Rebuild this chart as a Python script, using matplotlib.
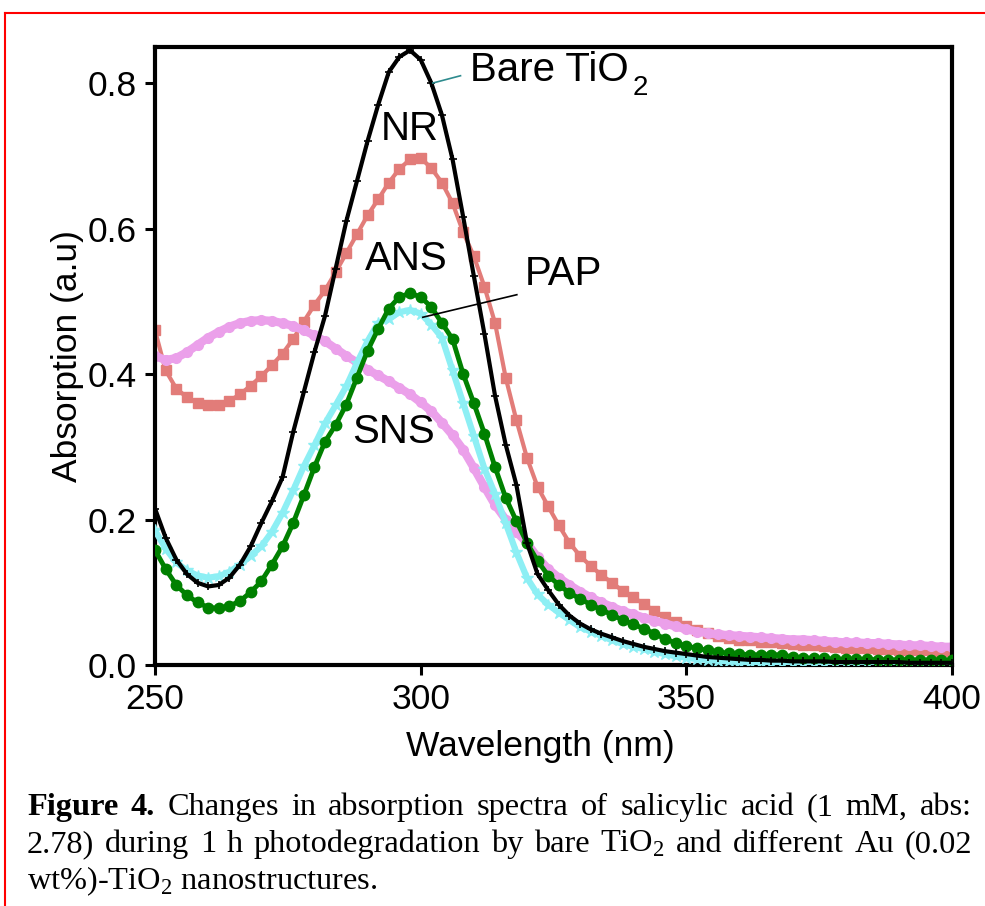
import numpy as np
import matplotlib
matplotlib.use("Agg")
import matplotlib.pyplot as plt
from matplotlib.lines import Line2D

plt.rcParams["font.family"] = ["Liberation Sans", "DejaVu Sans"]

# ── spectra, 2 nm steps ───────────────────────────────────────────────────────
wavelength = np.arange(250, 401, 2)

bare_tio2 = [0.215, 0.175, 0.145, 0.125, 0.113, 0.108, 0.110, 0.120, 0.138, 0.163,
             0.195, 0.225, 0.258, 0.320, 0.375, 0.430, 0.480, 0.545, 0.610, 0.665,
             0.720, 0.770, 0.815, 0.836, 0.845, 0.832, 0.800, 0.756, 0.695, 0.616,
             0.535, 0.455, 0.370, 0.303, 0.248, 0.168, 0.125, 0.103, 0.083, 0.068,
             0.057, 0.049, 0.043, 0.038, 0.033, 0.029, 0.025, 0.022, 0.019, 0.017,
             0.015, 0.013, 0.011, 0.010, 0.009, 0.008, 0.007, 0.007, 0.006, 0.006,
             0.005, 0.005, 0.005, 0.005, 0.004, 0.004, 0.004, 0.004, 0.004, 0.004,
             0.004, 0.003, 0.003, 0.003, 0.003, 0.003]

nr = [0.460, 0.405, 0.380, 0.368, 0.360, 0.357, 0.358, 0.363, 0.372, 0.384,
      0.397, 0.412, 0.428, 0.448, 0.472, 0.495, 0.515, 0.540, 0.566, 0.592,
      0.618, 0.640, 0.663, 0.682, 0.695, 0.697, 0.683, 0.663, 0.635, 0.595,
      0.562, 0.520, 0.470, 0.395, 0.337, 0.285, 0.245, 0.218, 0.192, 0.168,
      0.150, 0.136, 0.124, 0.113, 0.102, 0.093, 0.084, 0.074, 0.066, 0.059,
      0.053, 0.048, 0.044, 0.040, 0.037, 0.035, 0.034, 0.032, 0.031, 0.030,
      0.029, 0.028, 0.027, 0.026, 0.025, 0.024, 0.023, 0.023, 0.022, 0.022,
      0.021, 0.021, 0.020, 0.020, 0.019, 0.019]

sns_ = [0.425, 0.419, 0.422, 0.430, 0.440, 0.450, 0.458, 0.465, 0.470, 0.473,
        0.474, 0.473, 0.470, 0.466, 0.460, 0.453, 0.445, 0.435, 0.425, 0.416,
        0.406, 0.398, 0.390, 0.381, 0.372, 0.361, 0.349, 0.333, 0.316, 0.296,
        0.271, 0.245, 0.220, 0.200, 0.183, 0.168, 0.148, 0.132, 0.120, 0.110,
        0.101, 0.093, 0.086, 0.080, 0.074, 0.070, 0.065, 0.061, 0.057, 0.053,
        0.049, 0.046, 0.044, 0.042, 0.041, 0.040, 0.039, 0.038, 0.037, 0.036,
        0.035, 0.035, 0.034, 0.033, 0.032, 0.031, 0.031, 0.030, 0.030, 0.029,
        0.028, 0.027, 0.027, 0.026, 0.025, 0.025]

ans = [0.158, 0.132, 0.110, 0.096, 0.086, 0.079, 0.078, 0.081, 0.088, 0.100,
       0.115, 0.138, 0.163, 0.195, 0.233, 0.272, 0.307, 0.330, 0.358, 0.395,
       0.432, 0.462, 0.490, 0.506, 0.511, 0.506, 0.492, 0.470, 0.448, 0.400,
       0.360, 0.318, 0.272, 0.230, 0.198, 0.168, 0.143, 0.123, 0.110, 0.099,
       0.091, 0.083, 0.076, 0.069, 0.062, 0.056, 0.050, 0.043, 0.036, 0.030,
       0.026, 0.023, 0.020, 0.018, 0.016, 0.015, 0.014, 0.014, 0.014, 0.014,
       0.011, 0.010, 0.009, 0.009, 0.008, 0.008, 0.008, 0.008, 0.007, 0.007,
       0.007, 0.007, 0.007, 0.007, 0.007, 0.007]

pap = [0.185, 0.160, 0.141, 0.130, 0.123, 0.120, 0.122, 0.128, 0.138, 0.150,
       0.163, 0.183, 0.209, 0.240, 0.273, 0.302, 0.332, 0.357, 0.383, 0.415,
       0.445, 0.470, 0.476, 0.485, 0.488, 0.483, 0.468, 0.450, 0.405, 0.360,
       0.315, 0.270, 0.235, 0.195, 0.155, 0.120, 0.097, 0.083, 0.072, 0.062,
       0.052, 0.046, 0.040, 0.034, 0.029, 0.025, 0.022, 0.018, 0.015, 0.012,
       0.010, 0.008, 0.007, 0.006, 0.005, 0.004, 0.004, 0.004, 0.003, 0.003,
       0.003, 0.003, 0.003, 0.003, 0.003, 0.003, 0.003, 0.003, 0.003, 0.003,
       0.003, 0.003, 0.003, 0.003, 0.003, 0.003]

caption_lines = [
    [("Figure", "bold"), ("4.", "bold"), ("Changes", "normal"), ("in", "normal"),
     ("absorption", "normal"), ("spectra", "normal"), ("of", "normal"),
     ("salicylic", "normal"), ("acid", "normal"), ("(1", "normal"), ("mM,", "normal"),
     ("abs:", "normal")],
    [("2.78)", "normal"), ("during", "normal"), ("1", "normal"), ("h", "normal"),
     ("photodegradation", "normal"), ("by", "normal"), ("bare", "normal"),
     ("TiO$_\\mathregular{2}$", "normal"), ("and", "normal"), ("different", "normal"),
     ("Au", "normal"), ("(0.02", "normal")],
    [("wt%)-TiO$_\\mathregular{2}$ nanostructures.", "normal")],
]

W, H = 985, 906
fig = plt.figure(figsize=(W / 100, H / 100), dpi=100)
ax = fig.add_axes([155 / W, 1 - 665 / H, (952 - 155) / W, (665 - 47) / H])

# ── curves ────────────────────────────────────────────────────────────────────
ax.plot(wavelength, nr, color="#E27C79", lw=3, marker="s", ms=7.5,
        mec="#E27C79", zorder=2)
ax.plot(wavelength, sns_, color="#EBA0EA", lw=6, marker="o", ms=7,
        mec="#EBA0EA", zorder=2)
ax.plot(wavelength, pap, color="#8DEFF4", lw=4.5, marker="*", ms=9,
        mec="#8DEFF4", zorder=3)
ax.plot(wavelength, ans, color="#008000", lw=3.5, marker="o", ms=7.5,
        mec="#008000", zorder=4)
ax.plot(wavelength, bare_tio2, color="black", lw=3, marker="+", ms=6,
        mew=1.2, zorder=5)

ax.set_xlim(250, 400)
ax.set_ylim(0, 0.8495)
ax.set_xticks([250, 300, 350, 400])
ax.set_yticks([0.0, 0.2, 0.4, 0.6, 0.8])
ax.set_yticklabels(["0.0", "0.2", "0.4", "0.6", "0.8"])
for s in ax.spines.values():
    s.set_linewidth(3)
ax.tick_params(direction="out", length=7, width=2.2, labelsize=25.5, pad=6)
ax.set_xlabel("Wavelength (nm)", fontsize=25.5, labelpad=10)
ax.xaxis.label.set_x(0.483)
ax.set_ylabel("Absorption (a.u)", fontsize=25.5, labelpad=3)

# ── sample labels ─────────────────────────────────────────────────────────────
ax.text(309.3, 0.803, "Bare TiO", fontsize=29, va="baseline")
ax.text(339.8, 0.783, "2", fontsize=20, va="baseline")
ax.plot([302.3, 307.5], [0.800, 0.810], color="#2E8B8E", lw=1.2, zorder=6)
ax.text(292.5, 0.722, "NR", fontsize=29, va="baseline")
ax.text(289.5, 0.543, "ANS", fontsize=29, va="baseline")
ax.text(319.6, 0.522, "PAP", fontsize=29, va="baseline")
ax.plot([300.4, 318.1], [0.478, 0.509], color="black", lw=1.2, zorder=6)
ax.text(287.1, 0.305, "SNS", fontsize=29, va="baseline")

# ── red frame (top and left edges) ────────────────────────────────────────────
fig.add_artist(Line2D([5 / W, 1], [1 - 13 / H, 1 - 13 / H], color="#FF0000", lw=1.5))
fig.add_artist(Line2D([5 / W, 5 / W], [0, 1 - 13 / H], color="#FF0000", lw=1.5))

# ── justified caption ─────────────────────────────────────────────────────────
renderer = fig.canvas.get_renderer()
cap_kw = dict(family=["Liberation Serif", "DejaVu Serif"], fontsize=23.3, va="baseline")
x_left, x_right = 27, 972
baselines = [815, 852, 889]
for i, (words, yb) in enumerate(zip(caption_lines, baselines)):
    texts = [fig.text(0, 1 - yb / H, w, fontweight=fw, **cap_kw) for w, fw in words]
    widths = [t.get_window_extent(renderer).width for t in texts]
    if i < len(caption_lines) - 1:
        gap = (x_right - x_left - sum(widths)) / (len(words) - 1)
    else:
        gap = 0
    x = x_left
    for t, w in zip(texts, widths):
        t.set_x(x / W)
        x += w + gap

fig.savefig("out.png", dpi=100)
